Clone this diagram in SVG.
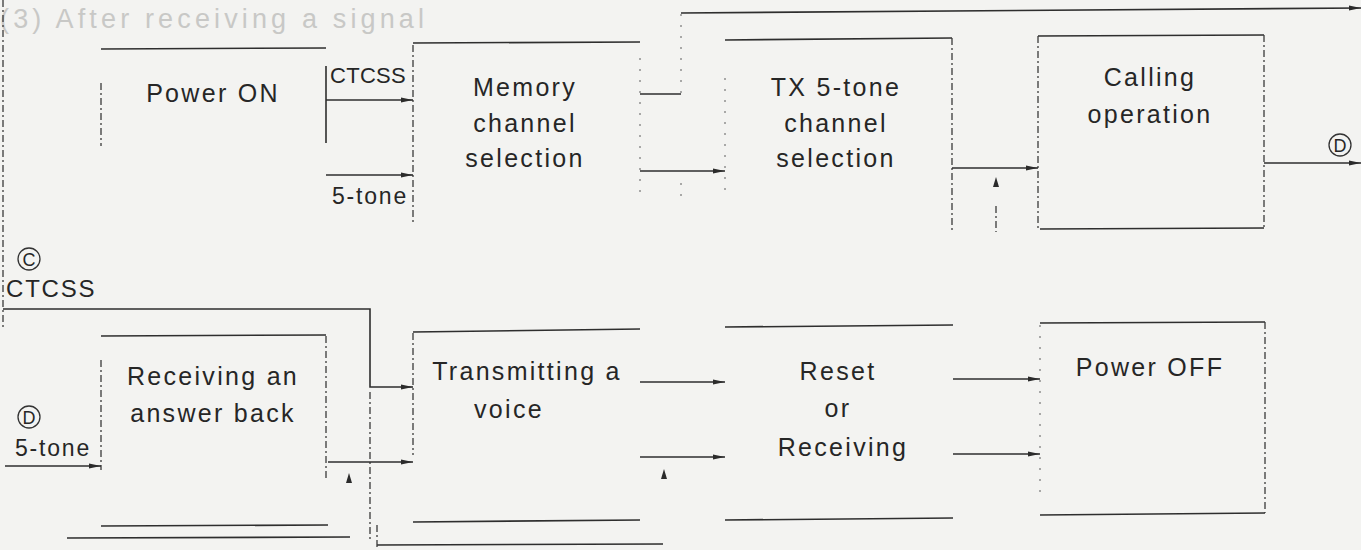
<svg xmlns="http://www.w3.org/2000/svg" width="1361" height="550" viewBox="0 0 1361 550">
<defs>
<marker id="ah" markerUnits="userSpaceOnUse" markerWidth="13" markerHeight="8" refX="12" refY="4" orient="auto">
<path d="M0,1.5 L12,4 L0,6.5 z" fill="#2b2b2b"/>
</marker>
<style>
.bg{fill:#f3f3f1}
.ln{stroke:#2e2e2e;stroke-width:1.6;fill:none}
.dl{stroke:#3a3a3a;stroke-width:1.3;fill:none;stroke-dasharray:7 3 2 3}
.dt{stroke:#777;stroke-width:1.2;fill:none;stroke-dasharray:2 9}
.lbl{font-family:"Liberation Sans",Arial,sans-serif;font-size:25px;letter-spacing:2.3px;fill:#262626;text-anchor:middle}
.sm{font-family:"Liberation Sans",Arial,sans-serif;font-size:23px;letter-spacing:1.8px;fill:#262626}
.cir{stroke:#333;stroke-width:1.3;fill:none}
.ttl{font-family:"Liberation Sans",Arial,sans-serif;font-size:27px;fill:#c8c8c6}
.up{fill:#2b2b2b}
</style>
</defs>
<rect class="bg" x="0" y="0" width="1361" height="550"/>
<text class="ttl" x="0" y="28" textLength="424" lengthAdjust="spacing">(3) After receiving a signal</text>
<line class="dl" x1="3" y1="0" x2="3" y2="330"/>

<g id="node-power-on">
<line class="ln" x1="101" y1="49" x2="326" y2="48"/>
<line class="dl" x1="101" y1="83" x2="101" y2="146"/>
<line class="ln" x1="326" y1="66" x2="326" y2="143"/>
<text class="lbl" x="213" y="102">Power ON</text>
</g>

<g id="node-memory">
<line class="ln" x1="413" y1="43" x2="640" y2="42"/>
<line class="dl" x1="413" y1="45" x2="413" y2="225"/>
<line class="dt" x1="640" y1="58" x2="640" y2="196"/>
<text class="lbl" x="525" y="96">Memory</text>
<text class="lbl" x="525" y="132">channel</text>
<text class="lbl" x="525" y="167">selection</text>
</g>

<g id="node-tx5tone">
<line class="ln" x1="725" y1="40" x2="952" y2="38"/>
<line class="dt" x1="725" y1="78" x2="725" y2="192"/>
<line class="dl" x1="952" y1="38" x2="952" y2="230"/>
<text class="lbl" x="836" y="96">TX 5-tone</text>
<text class="lbl" x="836" y="132">channel</text>
<text class="lbl" x="836" y="167">selection</text>
</g>

<g id="node-calling">
<line class="ln" x1="1038" y1="36" x2="1264" y2="35"/>
<line class="dl" x1="1038" y1="36" x2="1038" y2="229"/>
<line class="dl" x1="1264" y1="35" x2="1264" y2="229"/>
<line class="ln" x1="1040" y1="229" x2="1264" y2="228"/>
<text class="lbl" x="1150" y="86">Calling</text>
<text class="lbl" x="1150" y="123">operation</text>
</g>

<g id="node-receiving-answer">
<line class="ln" x1="101" y1="336" x2="326" y2="335"/>
<line class="dl" x1="101" y1="360" x2="101" y2="470"/>
<line class="dl" x1="326" y1="336" x2="326" y2="480"/>
<text class="lbl" x="213" y="385">Receiving an</text>
<text class="lbl" x="213" y="422">answer back</text>
</g>

<g id="node-transmitting">
<line class="ln" x1="413" y1="332" x2="640" y2="329"/>
<line class="dl" x1="413" y1="333" x2="413" y2="455"/>
<line class="ln" x1="413" y1="522" x2="640" y2="520"/>
<text class="lbl" x="527" y="380">Transmitting a</text>
<text class="lbl" x="509" y="418">voice</text>
</g>

<g id="node-reset">
<line class="ln" x1="725" y1="327" x2="953" y2="325"/>
<line class="ln" x1="725" y1="520" x2="953" y2="518"/>
<text class="lbl" x="838" y="380">Reset</text>
<text class="lbl" x="838" y="417">or</text>
<text class="lbl" x="843" y="456">Receiving</text>
</g>

<g id="node-power-off">
<line class="ln" x1="1040" y1="323" x2="1265" y2="322"/>
<line class="dt" x1="1040" y1="325" x2="1040" y2="500"/>
<line class="dl" x1="1265" y1="322" x2="1265" y2="513"/>
<line class="ln" x1="1040" y1="515" x2="1265" y2="513"/>
<text class="lbl" x="1150" y="376">Power OFF</text>
</g>

<g id="lower-fragments">
<line class="ln" x1="101" y1="526" x2="328" y2="525"/>
<line class="ln" x1="67" y1="538" x2="350" y2="537"/>
<line class="ln" x1="377" y1="545" x2="663" y2="544"/>
<line class="dl" x1="377" y1="525" x2="377" y2="550"/>
</g>

<g id="connectors">
<path class="ln" d="M326,100 H413" marker-end="url(#ah)"/>
<text class="sm" x="330" y="83" style="font-size:22px;letter-spacing:0.3px">CTCSS</text>
<path class="ln" d="M326,175 H413" marker-end="url(#ah)"/>
<text class="sm" x="332" y="204">5-tone</text>

<path class="ln" d="M640,94 H681"/>
<line class="dt" x1="681" y1="14" x2="681" y2="94"/>
<path class="ln" d="M681,13 L1361,8" marker-end="url(#ah)"/>
<path class="ln" d="M640,171 H725" marker-end="url(#ah)"/>
<line class="dt" x1="681" y1="183" x2="681" y2="198"/>

<path class="ln" d="M952,168 H1038" marker-end="url(#ah)"/>
<path class="up" d="M996,177 L999,187 L993,187 z"/>
<line class="dl" x1="996" y1="206" x2="996" y2="232"/>

<path class="ln" d="M1264,163 H1361" marker-end="url(#ah)"/>
<circle class="cir" cx="1340" cy="145" r="11"/>
<text class="sm" x="1340" y="152" style="font-size:18px;letter-spacing:0;text-anchor:middle">D</text>

<circle class="cir" cx="29" cy="259" r="11"/>
<text class="sm" x="29" y="266" style="font-size:18px;letter-spacing:0;text-anchor:middle">C</text>
<text class="sm" x="6" y="297" style="font-size:24px">CTCSS</text>
<path class="ln" d="M3,309 H370 V387 H413" marker-end="url(#ah)"/>
<line class="dl" x1="370" y1="392" x2="370" y2="542"/>

<circle class="cir" cx="29" cy="417" r="11"/>
<text class="sm" x="29" y="424" style="font-size:18px;letter-spacing:0;text-anchor:middle">D</text>
<text class="sm" x="15" y="456">5-tone</text>
<path class="ln" d="M5,466 H101" marker-end="url(#ah)"/>

<path class="ln" d="M328,462 H413" marker-end="url(#ah)"/>
<path class="up" d="M349,473 L352,483 L346,483 z"/>

<path class="ln" d="M640,382 H725" marker-end="url(#ah)"/>
<path class="ln" d="M640,457 H725" marker-end="url(#ah)"/>
<path class="up" d="M664,469 L667,479 L661,479 z"/>

<path class="ln" d="M953,379 H1040" marker-end="url(#ah)"/>
<path class="ln" d="M953,454 H1040" marker-end="url(#ah)"/>
</g>
</svg>
